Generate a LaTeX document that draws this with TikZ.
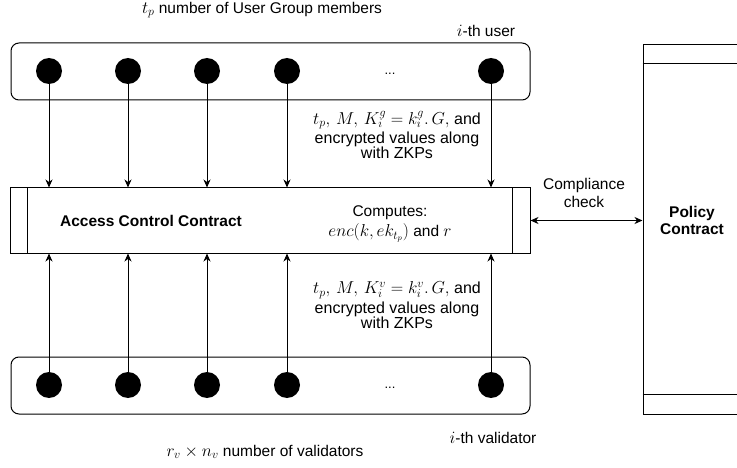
\documentclass[tikz,border=0pt]{standalone}
\usepackage{fontspec}
\setmainfont{Liberation Sans}
\usetikzlibrary{arrows.meta}

% text and math sizes used throughout
\newcommand\txtsz{\fontsize{15.5}{18}\selectfont}
\newcommand\mathbig[2][17]{{\fontsize{#1}{#1}\selectfont$#2$}}

\begin{document}
\begin{tikzpicture}[x=1pt,y=-1pt,
  every node/.style={font=\txtsz},
  member/.style={circle,fill=black,minimum size=26pt,inner sep=0pt},
  group/.style={draw,rounded corners=8pt,line width=1pt,minimum width=519pt,minimum height=57pt},
  contract/.style={draw,line width=1pt},
  flow/.style={line width=1pt,-{Stealth[length=8pt,width=7pt,inset=2.5pt]}},
  both/.style={line width=1pt,{Stealth[length=8pt,width=7pt,inset=2.5pt]}-{Stealth[length=8pt,width=7pt,inset=2.5pt]}},
  lbl/.style={align=center,inner sep=0pt},
  flowlbl/.style={align=center,inner sep=1pt,fill=white,font=\fontsize{16}{15}\selectfont}
]
\clip (0,0) rectangle (737,468);

% group containers
\node[group] (users) at (270.5,71.5) {};
\node[group] (vals) at (270.5,385.5) {};

% access control contract with side bars
\node[contract,minimum width=520pt,minimum height=65pt] (acc) at (270,220.5) {};
\draw[line width=1pt] ([xshift=18pt]acc.north west) -- ([xshift=18pt]acc.south west);
\draw[line width=1pt] ([xshift=-18pt]acc.north east) -- ([xshift=-18pt]acc.south east);
\node[font=\txtsz\bfseries] (acclbl) at (151,221) {Access Control Contract};
\node[lbl,font=\fontsize{15.5}{20}\selectfont] (comp) at (390,224)
  {Computes:\\\mathbig{enc(k,ek_{t_p})} and \mathbig{r}};

% policy contract with top and bottom bands
\node[contract,minimum width=98pt,minimum height=369pt] (pol) at (692,229.5) {};
\draw[line width=1pt] ([yshift=-19pt]pol.north west) -- ([yshift=-19pt]pol.north east);
\draw[line width=1pt] ([yshift=20pt]pol.south west) -- ([yshift=20pt]pol.south east);
\node[lbl,font=\fontsize{15.5}{17}\selectfont\bfseries] (pollbl) at (692,220) {Policy\\Contract};

% members and validators
\foreach \i/\x in {1/49,2/128,3/207,4/287,5/491} {
  \node[member] (u\i) at (\x,71) {};
  \node[member] (v\i) at (\x,385) {};
  \draw[flow] (u\i) -- (u\i |- acc.north);
  \draw[flow] (v\i) -- (v\i |- acc.south);
}
\node[font=\fontsize{13}{14}\selectfont] (udots) at (390,74) {...};
\node[font=\fontsize{13}{14}\selectfont] (vdots) at (390,388) {...};

% compliance check
\draw[both] (acc.east) -- (acc.east -| pol.west);
\node[lbl] (cc) at (584,193) {Compliance\\check};

% flow labels
\node[flowlbl] (uflow) at (397,135)
  {\mathbig[18.5]{t_p,\,M,\,K_i^g = k_i^g.\,G,} and\\[2pt]encrypted values along\\with ZKPs};
\node[flowlbl] (vflow) at (397,305)
  {\mathbig[18.5]{t_p,\,M,\,K_i^v = k_i^v.\,G,} and\\[2pt]encrypted values along\\with ZKPs};

% captions
\node (ucap) at (262,10) {\mathbig{t_p} number of User Group members};
\node (uith) at (486,31) {\mathbig{i}-th user};
\node (vcap) at (265,452) {\mathbig{r_v \times n_v} number of validators};
\node (vith) at (493,438) {\mathbig{i}-th validator};
\end{tikzpicture}
\end{document}
